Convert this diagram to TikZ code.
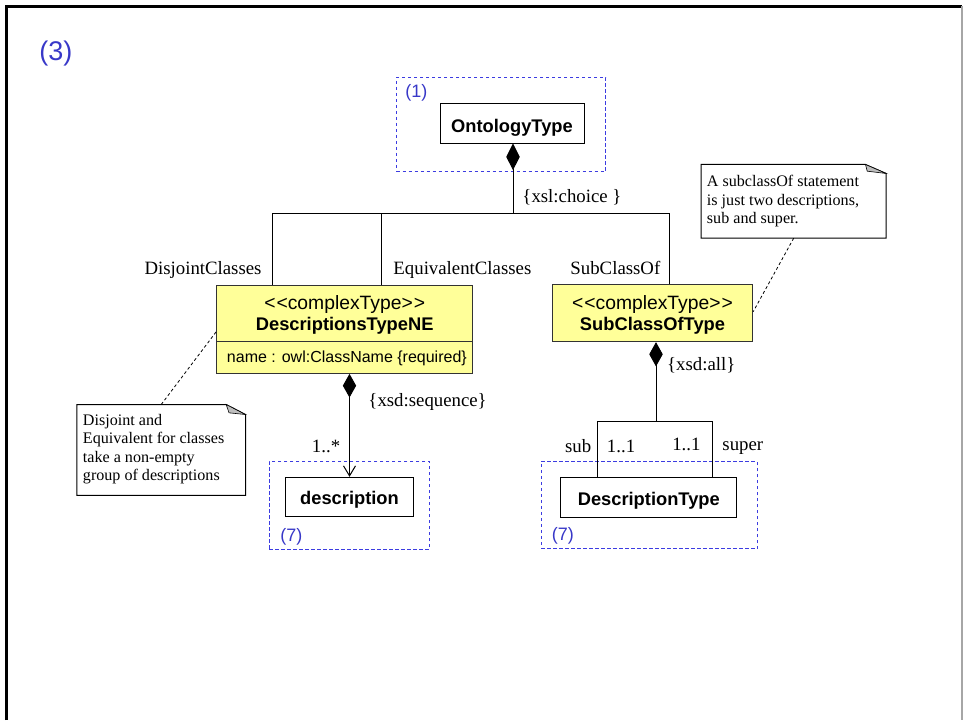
\documentclass[tikz,border=0pt]{standalone}
\usepackage{fontspec}
\setmainfont{Liberation Serif}
\setsansfont{Liberation Sans}
\usetikzlibrary{arrows.meta}
\definecolor{umlyellow}{RGB}{255,255,153}
\definecolor{fragblue}{RGB}{60,60,225}
\definecolor{labblue}{RGB}{56,56,200}
\definecolor{foldgray}{RGB}{190,190,190}
\begin{document}
\begin{tikzpicture}[x=1pt,y=-1pt,line width=0.95pt,
  box/.style={draw=black,fill=white,inner sep=0pt},
  ybox/.style={draw=black!80,fill=umlyellow,inner sep=0pt},
  frag/.style={draw=fragblue,line width=1pt,dash pattern=on 3.5pt off 2.5pt,inner sep=0pt},
  bold/.style={inner sep=0pt,anchor=base,font=\sffamily\bfseries\fontsize{18.3}{21}\selectfont},
  stereo/.style={inner sep=0pt,anchor=base,font=\sffamily\fontsize{19.3}{22}\selectfont},
  attr/.style={inner sep=0pt,anchor=base west,font=\sffamily\fontsize{16}{19}\selectfont},
  lab/.style={inner sep=0pt,font=\fontsize{18.8}{21}\selectfont},
  frlab/.style={inner sep=0pt,anchor=base west,text=labblue,font=\sffamily\fontsize{18}{21}\selectfont},
  notetext/.style={inner sep=0pt,anchor=north west,align=left,font=\fontsize{16.1}{18.3}\selectfont},
  noteline/.style={line width=0.8pt,dash pattern=on 3pt off 2.5pt},
  notebox/.style={line width=1pt},
  comp/.style={{Diamond[length=#1,width=13.5pt]}-},
  comp/.default=25pt]
\useasboundingbox (0,0) rectangle (963,720);
% frame
\draw[line width=2.6pt] (6.3,720) -- (6.3,6.3) -- (962,6.3);
\draw[line width=1.2pt,black!35] (962,6.3) -- (962,720);
% title
\node[inner sep=0pt,anchor=base west,text=labblue,font=\sffamily\fontsize{27}{30}\selectfont] (title) at (39,60) {(3)};

% fragment (1)
\node[frag,minimum width=209pt,minimum height=94.4pt] (f1) at (501.2,124.5) {};
\node[frlab] (f1l) at (405,97) {(1)};
\node[box,minimum width=144pt,minimum height=40pt] (onto) at (512,123) {};
\node[bold] (ontot) at (512,132) {OntologyType};

% DescriptionsTypeNE
\node[ybox,minimum width=256pt,minimum height=88.3pt] (dtne) at (344.7,329.2) {};
\draw[black!80] (dtne.west |- 0,341) -- (dtne.east |- 0,341);
\node[stereo] (dtnes) at (344.7,309.3) {<\kern1pt<complexType>\kern1pt>};
\node[bold] (dtnen) at (344.7,330.7) {DescriptionsTypeNE};
\node[attr] (dtnea) at (226.5,362.7) {name : owl:ClassName \{required\}};

% SubClassOfType
\node[ybox,minimum width=200.4pt,minimum height=56.7pt] (sct) at (652.5,313.3) {};
\node[stereo] (scts) at (652.5,309.3) {<\kern1pt<complexType>\kern1pt>};
\node[bold] (sctn) at (652.5,330) {SubClassOfType};

% description (7)
\node[frag,minimum width=160pt,minimum height=88pt] (f7a) at (349.3,505) {};
\node[frlab] (f7al) at (280,541) {(7)};
\node[box,minimum width=127.6pt,minimum height=39.4pt] (desc) at (349.5,497) {};
\node[bold] (desct) at (349.5,504.3) {description};

% DescriptionType (7)
\node[frag,minimum width=216.3pt,minimum height=87.3pt] (f7b) at (649.2,505.3) {};
\node[frlab] (f7bl) at (551.5,540) {(7)};
\node[box,minimum width=175.7pt,minimum height=40pt] (dtype) at (648.8,497.3) {};
\node[bold] (dtypet) at (648.8,505) {DescriptionType};

% choice connectors
\coordinate (jc) at (513,213);
\coordinate (jl) at (272,213);
\coordinate (jm) at (381,213);
\coordinate (jr) at (669,213);
\draw[comp=26.7pt] (onto.south -| jc) -- (jc);
\draw (jl) -- (jr);
\draw (jl) -- (jl |- dtne.north);
\draw (jm) -- (jm |- dtne.north);
\draw (jr) -- (jr |- sct.north);
\node[lab,anchor=base west] (choice) at (522,202) {\{xsl:choice \}};
\node[lab,anchor=base east] (ldis) at (262,274) {DisjointClasses};
\node[lab,anchor=base west] (lequ) at (393,274) {EquivalentClasses};
\node[lab,anchor=base west] (lsub) at (570,274) {SubClassOf};

% sequence connector
\draw[{Diamond[length=23.7pt,width=13.3pt]}-{Straight Barb[length=10pt,width=12pt,line width=1pt]}] (dtne.south -| desc.north) -- (desc.north);
\node[lab,anchor=base west] (seq) at (368,406) {\{xsd:sequence\}};
\node[lab,anchor=base west] (mult) at (311.5,452.7) {1..*};

% all connector
\coordinate (sj) at (656,421);
\coordinate (sl) at (597.3,421);
\coordinate (sr) at (712.3,421);
\draw[comp=24.3pt] (sct.south -| sj) -- (sj);
\draw (sl) -- (sr);
\draw (sl) -- (sl |- dtype.north);
\draw (sr) -- (sr |- dtype.north);
\node[lab,anchor=base west] (all) at (666.7,370.7) {\{xsd:all\}};
\node[lab,anchor=base east] (lsb) at (591.7,452.3) {sub};
\node[lab,anchor=base west] (m1) at (606.5,452.3) {1..1};
\node[lab,anchor=base east] (m2) at (701,450) {1..1};
\node[lab,anchor=base west] (lsup) at (722,450) {super};

% left note
\node[minimum width=167.7pt,minimum height=90pt,inner sep=0pt] (nl) at (161.2,450) {};
\draw[notebox] (nl.south west) -- (nl.north west) -- ([xshift=-19.3pt]nl.north east) -- ([yshift=-10pt]nl.north east) -- (nl.south east) -- cycle;
\fill[foldgray,draw=black,line width=0.6pt] ([xshift=-19.3pt]nl.north east) -- ([yshift=-10pt]nl.north east) -- ([xshift=-16.5pt,yshift=-8.3pt]nl.north east) -- cycle;
\node[notetext] (nlt) at (82.5,414) {Disjoint and\\Equivalent for classes\\take a non-empty\\group of descriptions};
\draw[noteline] (nl.north) -- (dtne.west |- 0,331.7);

% right note
\node[minimum width=184pt,minimum height=72.7pt,inner sep=0pt] (nr) at (793.7,201.3) {};
\draw[notebox] (nr.south west) -- (nr.north west) -- ([xshift=-20.7pt]nr.north east) -- ([yshift=-9pt]nr.north east) -- (nr.south east) -- cycle;
\fill[foldgray,draw=black,line width=0.6pt] ([xshift=-20.7pt]nr.north east) -- ([yshift=-9pt]nr.north east) -- ([xshift=-19pt,yshift=-6.7pt]nr.north east) -- cycle;
\node[notetext] (nrt) at (706.5,175) {A subclassOf statement\\is just two descriptions,\\sub and super.};
\draw[noteline] (nr.south) -- (sct.east |- 0,311.7);
\end{tikzpicture}
\end{document}
